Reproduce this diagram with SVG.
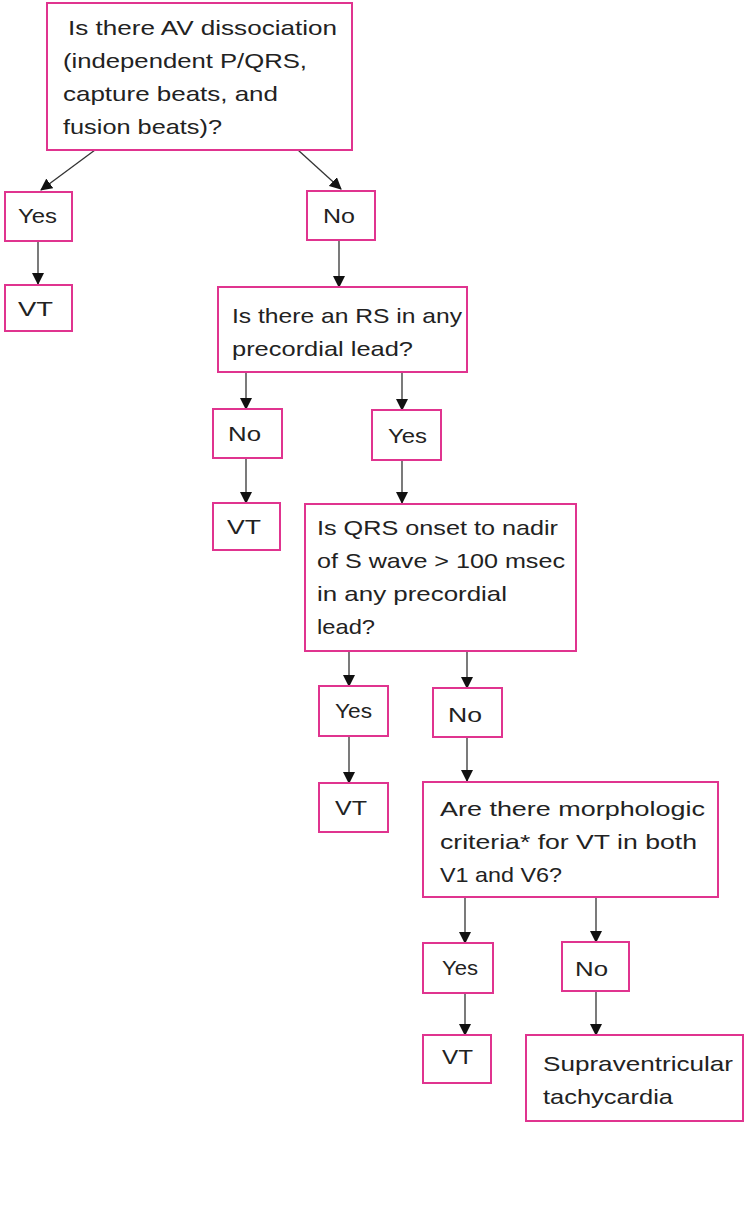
<svg xmlns="http://www.w3.org/2000/svg" width="750" height="1222" viewBox="0 0 750 1222">
<style>
.box{fill:#fff;stroke:#e0348f;stroke-width:2}
.t{font-family:"Liberation Sans",Arial,sans-serif;font-size:21px;fill:#222}
.c{stroke:#333;stroke-width:1.3;fill:none;marker-end:url(#ah)}
</style>
<defs>
<marker id="ah" markerUnits="userSpaceOnUse" markerWidth="12" markerHeight="12" viewBox="0 0 12 12" refX="11" refY="6" orient="auto">
<path d="M0,0 L12,6 L0,12 Z" fill="#111"/>
</marker>
</defs>
<rect width="750" height="1222" fill="#fff"/>
<g id="connectors">
<line class="c" x1="95" y1="150" x2="41" y2="190"/>
<line class="c" x1="298" y1="150" x2="341" y2="189"/>
<line class="c" x1="38" y1="242" x2="38" y2="284"/>
<line class="c" x1="339" y1="240" x2="339" y2="287"/>
<line class="c" x1="246" y1="372" x2="246" y2="409"/>
<line class="c" x1="402" y1="372" x2="402" y2="410"/>
<line class="c" x1="246" y1="458" x2="246" y2="503"/>
<line class="c" x1="402" y1="460" x2="402" y2="503"/>
<line class="c" x1="349" y1="651" x2="349" y2="686"/>
<line class="c" x1="467" y1="651" x2="467" y2="688"/>
<line class="c" x1="349" y1="736" x2="349" y2="783"/>
<line class="c" x1="467" y1="737" x2="467" y2="781"/>
<line class="c" x1="465" y1="897" x2="465" y2="943"/>
<line class="c" x1="596" y1="897" x2="596" y2="942"/>
<line class="c" x1="465" y1="993" x2="465" y2="1035"/>
<line class="c" x1="596" y1="991" x2="596" y2="1035"/>
</g>
<g id="q1">
<rect class="box" x="47" y="3" width="305" height="147"/>
<text class="t" x="68" y="35" textLength="269" lengthAdjust="spacingAndGlyphs">Is there AV dissociation</text>
<text class="t" x="63" y="68" textLength="244" lengthAdjust="spacingAndGlyphs">(independent P/QRS,</text>
<text class="t" x="63" y="101" textLength="215" lengthAdjust="spacingAndGlyphs">capture beats, and</text>
<text class="t" x="63" y="134" textLength="159" lengthAdjust="spacingAndGlyphs">fusion beats)?</text>
</g>
<g id="yes1">
<rect class="box" x="5" y="192" width="67" height="49"/>
<text class="t" x="18" y="223" textLength="39" lengthAdjust="spacingAndGlyphs">Yes</text>
</g>
<g id="no1">
<rect class="box" x="307" y="191" width="68" height="49"/>
<text class="t" x="323" y="223" textLength="32" lengthAdjust="spacingAndGlyphs">No</text>
</g>
<g id="vt1">
<rect class="box" x="5" y="285" width="67" height="46"/>
<text class="t" x="18" y="316" textLength="35" lengthAdjust="spacingAndGlyphs">VT</text>
</g>
<g id="q2">
<rect class="box" x="218" y="287" width="249" height="85"/>
<text class="t" x="232" y="323" textLength="230" lengthAdjust="spacingAndGlyphs">Is there an RS in any</text>
<text class="t" x="232" y="356" textLength="181" lengthAdjust="spacingAndGlyphs">precordial lead?</text>
</g>
<g id="no2">
<rect class="box" x="213" y="409" width="69" height="49"/>
<text class="t" x="228" y="441" textLength="33" lengthAdjust="spacingAndGlyphs">No</text>
</g>
<g id="yes2">
<rect class="box" x="372" y="410" width="69" height="50"/>
<text class="t" x="388" y="443" textLength="39" lengthAdjust="spacingAndGlyphs">Yes</text>
</g>
<g id="vt2">
<rect class="box" x="213" y="503" width="67" height="47"/>
<text class="t" x="227" y="534" textLength="34" lengthAdjust="spacingAndGlyphs">VT</text>
</g>
<g id="q3">
<rect class="box" x="305" y="504" width="271" height="147"/>
<text class="t" x="317" y="535" textLength="241" lengthAdjust="spacingAndGlyphs">Is QRS onset to nadir</text>
<text class="t" x="317" y="568" textLength="248" lengthAdjust="spacingAndGlyphs">of S wave &gt; 100 msec</text>
<text class="t" x="317" y="601" textLength="190" lengthAdjust="spacingAndGlyphs">in any precordial</text>
<text class="t" x="317" y="634" textLength="58" lengthAdjust="spacingAndGlyphs">lead?</text>
</g>
<g id="yes3">
<rect class="box" x="319" y="686" width="69" height="50"/>
<text class="t" x="335" y="718" textLength="37" lengthAdjust="spacingAndGlyphs">Yes</text>
</g>
<g id="no3">
<rect class="box" x="433" y="688" width="69" height="49"/>
<text class="t" x="448" y="722" textLength="34" lengthAdjust="spacingAndGlyphs">No</text>
</g>
<g id="vt3">
<rect class="box" x="319" y="783" width="69" height="49"/>
<text class="t" x="335" y="815" textLength="32" lengthAdjust="spacingAndGlyphs">VT</text>
</g>
<g id="q4">
<rect class="box" x="423" y="782" width="295" height="115"/>
<text class="t" x="440" y="816" textLength="265" lengthAdjust="spacingAndGlyphs">Are there morphologic</text>
<text class="t" x="440" y="849" textLength="257" lengthAdjust="spacingAndGlyphs">criteria* for VT in both</text>
<text class="t" x="440" y="882" textLength="122" lengthAdjust="spacingAndGlyphs">V1 and V6?</text>
</g>
<g id="yes4">
<rect class="box" x="423" y="943" width="70" height="50"/>
<text class="t" x="442" y="975" textLength="36" lengthAdjust="spacingAndGlyphs">Yes</text>
</g>
<g id="no4">
<rect class="box" x="562" y="942" width="67" height="49"/>
<text class="t" x="575" y="976" textLength="33" lengthAdjust="spacingAndGlyphs">No</text>
</g>
<g id="vt4">
<rect class="box" x="423" y="1035" width="68" height="48"/>
<text class="t" x="442" y="1064" textLength="31" lengthAdjust="spacingAndGlyphs">VT</text>
</g>
<g id="svt">
<rect class="box" x="526" y="1035" width="217" height="86"/>
<text class="t" x="543" y="1071" textLength="190" lengthAdjust="spacingAndGlyphs">Supraventricular</text>
<text class="t" x="543" y="1104" textLength="130" lengthAdjust="spacingAndGlyphs">tachycardia</text>
</g>
</svg>
